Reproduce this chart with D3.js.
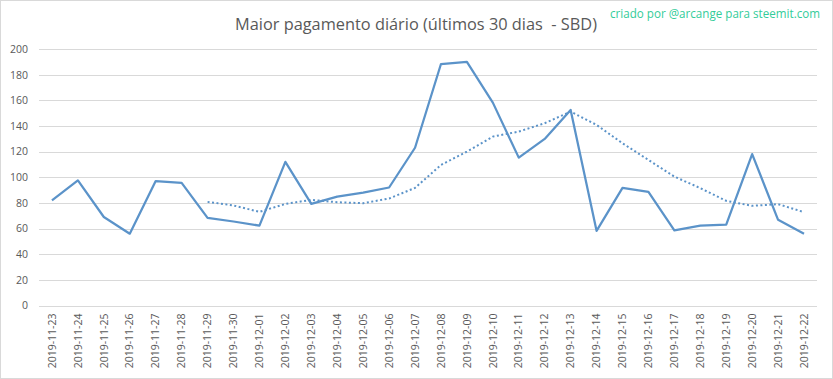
<!DOCTYPE html>
<html><head><meta charset="utf-8">
<script src="https://cdn.jsdelivr.net/npm/d3@7"></script>
<style>html,body{margin:0;padding:0;background:#fff;}</style>
</head><body>
<script>
const dates = ["2019-11-23","2019-11-24","2019-11-25","2019-11-26","2019-11-27","2019-11-28","2019-11-29","2019-11-30","2019-12-01","2019-12-02","2019-12-03","2019-12-04","2019-12-05","2019-12-06","2019-12-07","2019-12-08","2019-12-09","2019-12-10","2019-12-11","2019-12-12","2019-12-13","2019-12-14","2019-12-15","2019-12-16","2019-12-17","2019-12-18","2019-12-19","2019-12-20","2019-12-21","2019-12-22"];
const payout = [82,97.5,69,56,97,95.6,68.3,65.5,62.3,112,79.2,84.9,88,92,123,188.3,189.9,158.2,115.3,129.9,152.5,58.2,91.7,88.6,58.5,62.3,63.1,118,66.8,55.9];
const movingAvg = [null,null,null,null,null,null,80.8,78,73,79.2,82.4,80.5,79.8,83.4,91.7,109.6,120,131.7,135.6,142.1,151.2,140.8,126.5,113.5,100.5,91.5,81.6,77.7,79,72.8];
const yTicks = [0,20,40,60,80,100,120,140,160,180,200];
const titleText = "Maior pagamento diário (últimos 30 dias  - SBD)";
const creditText = "criado por @arcange para steemit.com";

(function(){
const W = 833, H = 379;
const svg = d3.select("body").append("svg").attr("width", W).attr("height", H);
svg.append("rect").attr("x",0.5).attr("y",0.5).attr("width",W-1).attr("height",H-1)
  .attr("fill","#fff").attr("stroke","#d9d9d9");

const mLeft = 39, mRight = 817, mTop = 49, mBottom = 305.5;
const x = d3.scaleBand().domain(dates).range([mLeft, mRight]);
const y = d3.scaleLinear().domain([0,200]).range([mBottom, mTop]);

svg.append("g").selectAll("line").data(yTicks).join("line")
  .attr("x1", mLeft).attr("x2", mRight)
  .attr("y1", d => Math.round(y(d))+0.5).attr("y2", d => Math.round(y(d))+0.5)
  .attr("stroke", "#d9d9d9").attr("stroke-width", 1);

const yAxis = d3.axisLeft(y).tickValues(yTicks).tickSize(0).tickPadding(0);
const gy = svg.append("g").attr("transform", `translate(${mLeft-11},0)`).call(yAxis);
gy.select(".domain").remove();
gy.selectAll("text").attr("fill","#595959").style("font-family","'Open Sans', sans-serif").style("font-size","10.5px");

const xAxis = d3.axisBottom(x).tickSize(0).tickPadding(0);
const gx = svg.append("g").attr("transform", `translate(0,${mBottom})`).call(xAxis);
gx.select(".domain").remove();
gx.selectAll("text")
  .attr("fill","#595959").style("font-family","'Open Sans', sans-serif").style("font-size","10.5px")
  .attr("text-anchor","end").attr("dy","0.35em")
  .attr("transform","translate(0,8) rotate(-90)").attr("x",0).attr("y",0);

const color = "#5b93c9";
const line = d3.line().defined(d => d[1] != null)
  .x(d => x(d[0]) + x.bandwidth()/2).y(d => y(d[1]));

svg.append("path").datum(dates.map((d,i)=>[d, movingAvg[i]]))
  .attr("d", line).attr("fill","none").attr("stroke", color)
  .attr("stroke-width", 2).attr("stroke-dasharray","2,2.5");

svg.append("path").datum(dates.map((d,i)=>[d, payout[i]]))
  .attr("d", line).attr("fill","none").attr("stroke", color)
  .attr("stroke-width", 2.25).attr("stroke-linejoin","round");

svg.append("text").attr("x", 416).attr("y", 30).attr("text-anchor","middle")
  .attr("fill","#595959").style("font-family","'Open Sans', sans-serif").style("font-size","17px")
  .style("white-space","pre").attr("xml:space","preserve")
  .attr("textLength", 362).attr("lengthAdjust","spacingAndGlyphs")
  .text(titleText);

svg.append("text").attr("x", 610).attr("y", 18)
  .attr("fill","#33cc99").style("font-family","'Open Sans', sans-serif").style("font-size","12px")
  .attr("textLength", 210).attr("lengthAdjust","spacingAndGlyphs")
  .text(creditText);
})();
</script>
</body></html>
